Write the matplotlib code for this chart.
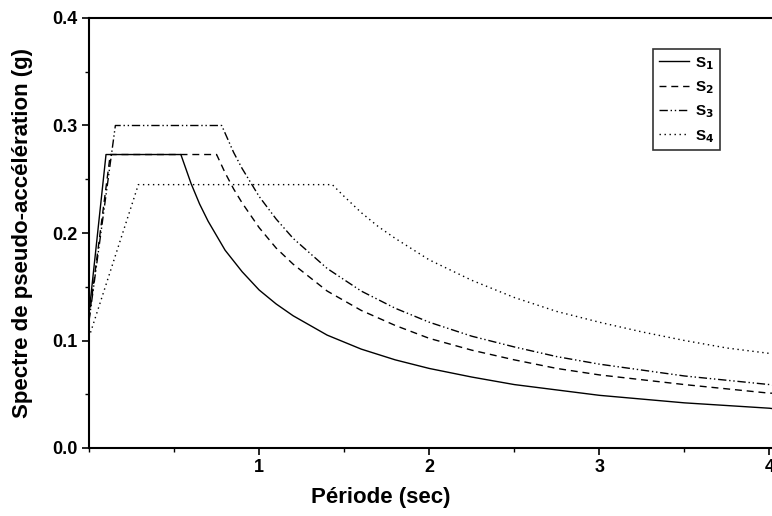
import matplotlib
matplotlib.use("Agg")
import matplotlib.pyplot as plt
from matplotlib.ticker import MultipleLocator

plt.rcParams['font.family'] = ['Liberation Sans', 'DejaVu Sans']
plt.rcParams['font.weight'] = 'bold'
plt.rcParams['mathtext.default'] = 'bf'

# periods (s) and pseudo-acceleration (g)
t1 = [0, 0.10, 0.54, 0.6, 0.65, 0.7, 0.8, 0.9, 1.0, 1.1, 1.2, 1.4, 1.6, 1.8,
      2.0, 2.25, 2.5, 2.75, 3.0, 3.5, 4.0, 4.05]
s1 = [0.125, 0.273, 0.273, 0.246, 0.227, 0.211, 0.184, 0.164, 0.147, 0.134,
      0.123, 0.105, 0.092, 0.082, 0.074, 0.066, 0.059, 0.054, 0.049, 0.042,
      0.037, 0.036]

t2 = [0, 0.125, 0.75, 0.8, 0.85, 0.9, 1.0, 1.1, 1.2, 1.4, 1.6, 1.8, 2.0,
      2.25, 2.5, 2.75, 3.0, 3.5, 4.0, 4.05]
s2 = [0.12, 0.273, 0.273, 0.256, 0.241, 0.228, 0.205, 0.186, 0.171, 0.146,
      0.128, 0.114, 0.102, 0.091, 0.082, 0.074, 0.068, 0.059, 0.051, 0.051]

t3 = [0, 0.155, 0.78, 0.85, 0.9, 1.0, 1.1, 1.2, 1.4, 1.6, 1.8, 2.0, 2.25,
      2.5, 2.75, 3.0, 3.5, 4.0, 4.05]
s3 = [0.118, 0.300, 0.300, 0.275, 0.260, 0.234, 0.213, 0.195, 0.167, 0.146,
      0.130, 0.117, 0.104, 0.094, 0.085, 0.078, 0.067, 0.059, 0.058]

t4 = [0, 0.29, 1.43, 1.5, 1.6, 1.7, 1.8, 2.0, 2.25, 2.5, 2.75, 3.0, 3.25,
      3.5, 3.75, 4.0, 4.05]
s4 = [0.103, 0.245, 0.245, 0.234, 0.219, 0.206, 0.195, 0.175, 0.156, 0.140,
      0.127, 0.117, 0.108, 0.100, 0.093, 0.088, 0.087]

labels = ['S$_1$', 'S$_2$', 'S$_3$', 'S$_4$']

fig = plt.figure(figsize=(7.72, 5.16), dpi=100)
# axes extends past the right edge, like the cropped original
ax = fig.add_axes([89 / 772, 68 / 516, 689 / 772, 430 / 516])

ax.plot(t1, s1, color='black', lw=1.0, ls='-', label=labels[0])
ax.plot(t2, s2, color='black', lw=1.0, ls=(0, (5, 3.5)), label=labels[1])
ax.plot(t3, s3, color='black', lw=1.0, ls=(0, (6, 2, 1, 2, 1, 2)), label=labels[2])
ax.plot(t4, s4, color='black', lw=1.0, ls=(0, (1, 2.6)), label=labels[3])

ax.set_xlim(0, 4.05)
ax.set_ylim(0, 0.4)
ax.set_xticks([1, 2, 3, 4])
ax.xaxis.set_minor_locator(MultipleLocator(0.5))
ax.yaxis.set_major_locator(MultipleLocator(0.1))
ax.yaxis.set_minor_locator(MultipleLocator(0.05))
ax.yaxis.set_major_formatter(plt.FormatStrFormatter('%.1f'))

for side in ['left', 'bottom', 'top']:
    ax.spines[side].set_linewidth(1.5)
ax.spines['right'].set_visible(False)

ax.tick_params(axis='both', which='major', direction='out', length=5, width=1.2,
               labelsize=13, pad=3)
ax.tick_params(axis='both', which='minor', direction='out', length=3, width=1.0)
for lab in ax.get_xticklabels() + ax.get_yticklabels():
    lab.set_fontweight('bold')

ax.set_xlabel('Période (sec)', fontsize=16, fontweight='bold')
ax.xaxis.set_label_coords((381 - 89) / 689, -0.09)
ax.set_ylabel('Spectre de pseudo-accélération (g)', fontsize=16,
              fontweight='bold', labelpad=14)

leg = ax.legend(loc='upper left', bbox_to_anchor=((653 - 89) / 689, 1 - 31 / 430),
                frameon=True, fancybox=False, shadow=False, fontsize=11,
                handlelength=2.0, handletextpad=0.35, labelspacing=0.5,
                borderpad=0.38, borderaxespad=0)
leg.get_frame().set_edgecolor('black')
leg.get_frame().set_linewidth(1.2)

fig.savefig('out.png', dpi=100)
